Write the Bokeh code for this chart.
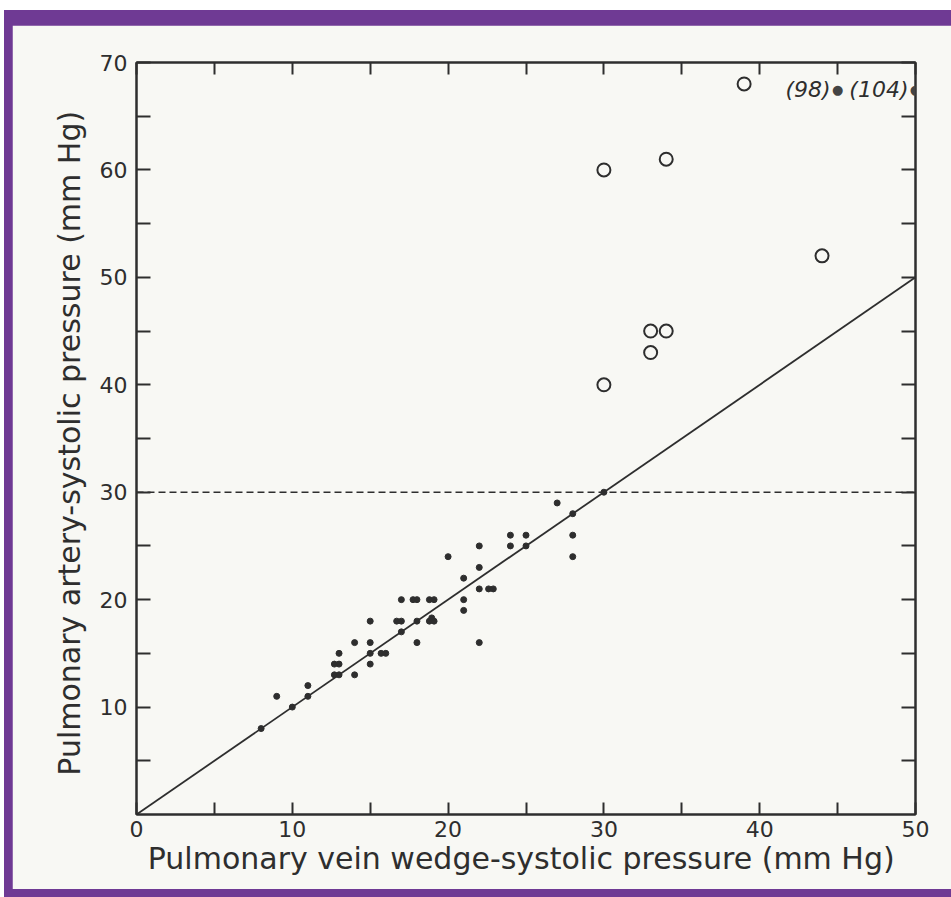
from bokeh.plotting import figure
from bokeh.models import Range1d, FixedTicker, LinearAxis, Label, CustomJSTickFormatter
from bokeh.layouts import column
from bokeh.embed import file_html
from bokeh.resources import INLINE

# ---------------- data ----------------
filled_x = [8, 9, 10, 11, 11, 13, 12.7, 13.0, 12.7, 13.0, 14, 14, 15, 15, 15, 15,
            15.7, 16.0, 17, 16.7, 17.0, 17, 17.75, 18.0, 18, 18, 18.8, 19.1, 18.8,
            19.1, 18.95, 20, 21, 21, 21, 22, 22, 22, 22, 22.6, 22.9, 24, 24, 25, 25,
            27, 28, 28, 28, 30]
filled_y = [8, 11, 10, 12, 11, 15, 14, 14, 13, 13, 16, 13, 18, 16, 15, 14,
            15, 15, 20, 18, 18, 17, 20, 20, 18, 16, 20, 20, 18,
            18, 18.3, 24, 22, 20, 19, 25, 23, 21, 16, 21, 21, 26, 25, 26, 25,
            29, 28, 26, 24, 30]

open_x = [30, 30, 34, 39, 44, 33, 34, 33]
open_y = [60, 40, 61, 68, 52, 45, 45, 43]

offscale_x = [45, 50]
offscale_y = [67.5, 67.5]
offscale_text = ["(98)", "(104)"]

identity_x = [0, 50]
identity_y = [0, 50]
limit_x = [0, 50]
limit_y = [30, 30]

x_ticks = [0, 10, 20, 30, 40, 50]
x_minor = [5, 15, 25, 35, 45]
y_ticks = [10, 20, 30, 40, 50, 60, 70]
y_minor = [5, 15, 25, 35, 45, 55, 65]

x_title = "Pulmonary vein wedge-systolic pressure  (mm Hg)"
y_title = "Pulmonary artery-systolic pressure  (mm Hg)"

# ---------------- style ----------------
BG = "#f8f8f4"
INK = "#2e2e2e"
PURPLE = "#6f3a94"
FONT = "DejaVu Sans"

p = figure(width=939, height=864, x_range=Range1d(0, 50), y_range=Range1d(0, 70),
           output_backend="svg", toolbar_location=None,
           min_border_left=124, min_border_right=36, min_border_top=37, min_border_bottom=75,
           background_fill_color=BG, border_fill_color=BG)
p.xgrid.visible = False
p.ygrid.visible = False
p.outline_line_color = INK
p.outline_line_width = 2
p.outline_line_alpha = 1

def style_axis(ax, ticks, minor, tick_len, show_labels):
    ax.ticker = FixedTicker(ticks=ticks, minor_ticks=minor)
    ax.major_tick_in = tick_len
    ax.major_tick_out = 0
    ax.minor_tick_in = tick_len
    ax.minor_tick_out = 0
    ax.major_tick_line_color = INK
    ax.minor_tick_line_color = INK
    ax.major_tick_line_width = 2
    ax.minor_tick_line_width = 2
    ax.axis_line_color = INK
    ax.axis_line_width = 2
    ax.major_label_text_font = FONT
    ax.major_label_text_font_size = "22px"
    ax.major_label_text_color = INK
    if not show_labels:
        ax.formatter = CustomJSTickFormatter(code="return ''")

xa = p.xaxis[0]
style_axis(xa, x_ticks, x_minor, 12, True)
xa.major_label_standoff = 6
xa.axis_label = x_title
xa.axis_label_text_font = FONT
xa.axis_label_text_font_style = "normal"
xa.axis_label_text_font_size = "30px"
xa.axis_label_text_color = INK
xa.axis_label_standoff = 1

ya = p.yaxis[0]
style_axis(ya, y_ticks, y_minor, 14, True)
ya.major_label_standoff = 9
ya.axis_label = y_title
ya.axis_label_text_font = FONT
ya.axis_label_text_font_style = "normal"
ya.axis_label_text_font_size = "30px"
ya.axis_label_text_color = INK
ya.axis_label_standoff = 10

top = LinearAxis()
style_axis(top, x_ticks, x_minor, 12, False)
p.add_layout(top, "above")
right = LinearAxis()
style_axis(right, y_ticks, y_minor, 14, False)
p.add_layout(right, "right")

# lines
p.line(limit_x, limit_y, line_color=INK, line_width=1.6, line_dash="7 4")
p.line(identity_x, identity_y, line_color=INK, line_width=1.8)

# points
p.scatter(filled_x, filled_y, size=6, marker="circle", fill_color=INK, line_color=INK)
p.scatter(open_x, open_y, size=13, marker="circle", fill_color=None, line_color=INK, line_width=2)

# off-scale values (drawn as unclipped annotations)
for xv, yv, t in zip(offscale_x, offscale_y, offscale_text):
    p.add_layout(Label(x=xv, y=yv, text="\u25cf", text_align="center", text_baseline="middle",
                       text_font=FONT, text_font_size="13px", text_color="#444444"))
    p.add_layout(Label(x=xv, y=yv, x_offset=-7, text=t, text_align="right",
                       text_baseline="middle", text_font=FONT, text_font_style="italic",
                       text_font_size="22px", text_color=INK))

layout = column(p, styles={"background-color": PURPLE,
                           "padding": "15px 0px 8px 8px",
                           "margin-top": "10px", "margin-left": "4px"},
                background=PURPLE)

open("out.html", "w").write(file_html(layout, INLINE))
